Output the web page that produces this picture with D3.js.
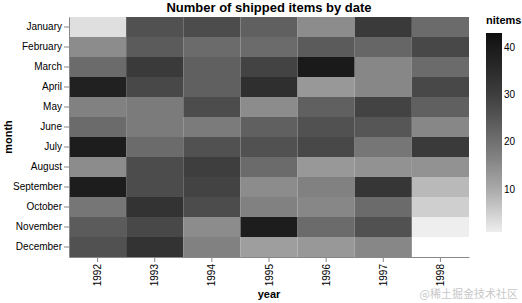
<!DOCTYPE html>
<html>
<head>
<meta charset="utf-8">
<script src="https://cdn.jsdelivr.net/npm/d3@7"></script>
<style>
  body { margin: 0; background: #fff; }
  svg { display: block; font-family: "Liberation Sans", Arial, Helvetica, sans-serif; }
  .axis .domain, .axis line { stroke: #888; }
  .axis text { fill: #000; font-size: 10px; }
</style>
</head>
<body>
<div id="container"></div>
<script>
// data
var months = ["January", "February", "March", "April", "May", "June",
              "July", "August", "September", "October", "November", "December"];
var years = ["1992", "1993", "1994", "1995", "1996", "1997", "1998"];
// one row per month, one value per year
var nitems = [
    [ 3, 26, 27, 23, 15, 31, 21],
    [15, 24, 21, 21, 24, 22, 28],
    [21, 31, 23, 29, 40, 16, 21],
    [38, 28, 23, 34, 13, 16, 28],
    [17, 18, 27, 15, 23, 29, 23],
    [21, 18, 18, 23, 26, 25, 16],
    [39, 21, 26, 26, 28, 19, 31],
    [15, 27, 30, 21, 13, 14, 14],
    [39, 27, 29, 15, 17, 32,  8],
    [19, 33, 27, 17, 16, 21,  5],
    [24, 28, 15, 39, 21, 26,  1],
    [26, 33, 17, 12, 13, 16, null]
];
var legendTicks = [10, 20, 30, 40];

// General Settings
var W = 522, H = 303,
margin = {top: 17, left: 69},
w = 400, h = 240,
colorDomain = [1, 10, 20, 30, 40, 43],
colorRange = ["#eeeeee", "#aaaaaa", "#707070", "#3e3e3e", "#1a1a1a", "#0e0e0e"];

var cells = [];
months.forEach(function(m, i) {
    years.forEach(function(yr, j) {
        if (nitems[i][j] != null) cells.push({month: m, year: yr, value: nitems[i][j]});
    });
});

var svg = d3.select("#container")
    .append("svg")
    .attr("width", W)
    .attr("height", H);

var color = d3.scaleLinear()
    .domain(colorDomain)
    .range(colorRange)
    .interpolate(d3.interpolateLab);

var x = d3.scaleBand().domain(years).range([0, w]);
var y = d3.scaleBand().domain(months).range([0, h]);

var g = svg.append("g")
    .attr("transform", "translate(" + margin.left + "," + margin.top + ")");

// cells
g.selectAll(".cell")
    .data(cells)
    .enter()
    .append("rect")
        .attr("class", "cell")
        .attr("x", function(d) { return x(d.year); })
        .attr("y", function(d) { return y(d.month); })
        .attr("width", x.bandwidth())
        .attr("height", y.bandwidth())
        .attr("fill", function(d) { return color(d.value); });

// Y axis
g.append("g")
    .attr("class", "axis")
    .call(d3.axisLeft(y).tickSize(5).tickPadding(2).tickSizeOuter(0));

// X axis
var xAxis = g.append("g")
    .attr("class", "axis")
    .attr("transform", "translate(0," + h + ")")
    .call(d3.axisBottom(x).tickSize(5).tickSizeOuter(0));
xAxis.selectAll("text")
    .attr("transform", "rotate(-90)")
    .attr("text-anchor", "end")
    .attr("x", -7)
    .attr("y", 0)
    .attr("dy", "0.35em");

// title
svg.append("text")
    .attr("x", margin.left + w / 2)
    .attr("y", 12)
    .attr("text-anchor", "middle")
    .style("font-size", "13px")
    .style("font-weight", "bold")
    .text("Number of shipped items by date");

// axis titles
svg.append("text")
    .attr("transform", "rotate(-90)")
    .attr("x", -(margin.top + h / 2))
    .attr("y", 12)
    .attr("text-anchor", "middle")
    .style("font-size", "11px")
    .style("font-weight", "bold")
    .text("month");

svg.append("text")
    .attr("x", margin.left + w / 2)
    .attr("y", 298)
    .attr("text-anchor", "middle")
    .style("font-size", "11px")
    .style("font-weight", "bold")
    .text("year");

// legend
var lx = 486, ly0 = 33, ly1 = 232;
var ly = d3.scaleLinear().domain([colorDomain[0], colorDomain[colorDomain.length - 1]]).range([ly1, ly0]);

var grad = svg.append("defs").append("linearGradient")
    .attr("id", "grad")
    .attr("x1", 0).attr("y1", 1)
    .attr("x2", 0).attr("y2", 0);
d3.range(0, 1.0001, 0.05).forEach(function(t) {
    var v = ly.domain()[0] + t * (ly.domain()[1] - ly.domain()[0]);
    grad.append("stop")
        .attr("offset", t)
        .attr("stop-color", color(v));
});

svg.append("rect")
    .attr("x", lx)
    .attr("y", ly0)
    .attr("width", 16)
    .attr("height", ly1 - ly0)
    .attr("fill", "url(#grad)");

svg.append("text")
    .attr("x", lx)
    .attr("y", 24)
    .style("font-size", "11px")
    .style("font-weight", "bold")
    .text("nitems");

svg.selectAll(".leglabel")
    .data(legendTicks)
    .enter()
    .append("text")
        .attr("class", "leglabel")
        .attr("x", lx + 18)
        .attr("y", function(d) { return ly(d); })
        .attr("dy", "0.35em")
        .style("font-size", "10px")
        .text(function(d) { return d; });

// watermark
svg.append("text")
    .attr("x", 518)
    .attr("y", 298)
    .attr("text-anchor", "end")
    .style("font-family", "'Noto Sans CJK SC', sans-serif")
    .style("font-size", "11px")
    .style("fill", "#c8c8c8")
    .text("@稀土掘金技术社区");
</script>
</body>
</html>
